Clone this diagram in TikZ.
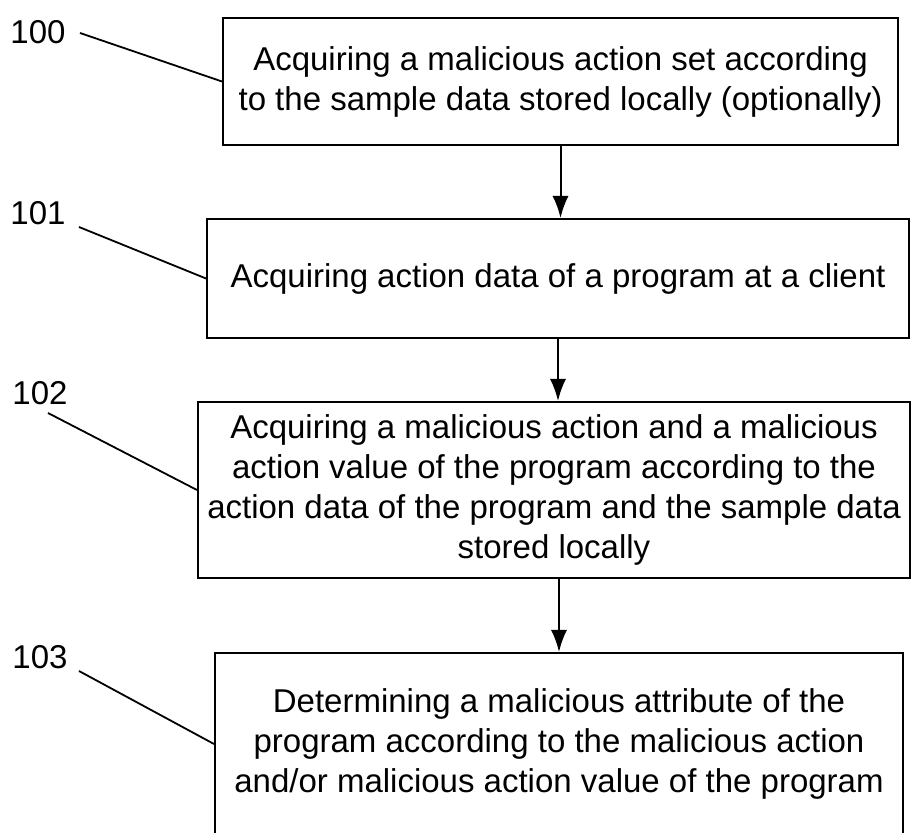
\documentclass[tikz,border=0pt]{standalone}
\usepackage{fontspec}
\setmainfont{Liberation Sans}
\usetikzlibrary{arrows.meta}

\begin{document}
\begin{tikzpicture}[
  x=0.5pt, y=-0.5pt,
  stepbox/.style={draw, line width=1pt, inner sep=0pt, align=center, font=\fontsize{16.5}{20}\selectfont},
  num/.style={inner sep=0pt, font=\fontsize{16.5}{20}\selectfont},
  ln/.style={line width=0.9pt},
  arr/.style={line width=1pt, -{Latex[length=11pt,width=8pt]}}
]
\useasboundingbox (0,0) rectangle (911,833);
% step boxes
\node[stepbox, minimum width=337.5pt, minimum height=63.5pt] (b100) at (560.5,81.5) {Acquiring a malicious action set according\\to the sample data stored locally (optionally)};
\node[stepbox, minimum width=351pt, minimum height=59.5pt] (b101) at (558,278.5) {Acquiring action data of a program at a client};
\node[stepbox, minimum width=356pt, minimum height=88pt] (b102) at (554,490) {Acquiring a malicious action and a malicious\\action value of the program according to the\\action data of the program and the sample data\\stored locally};
\node[stepbox, minimum width=344pt, minimum height=91pt] (b103) at (559,744) {Determining a malicious attribute of the\\program according to the malicious action\\and/or malicious action value of the program};
% reference numerals
\node[num] (l100) at (38,32) {100};
\node[num] (l101) at (38,213) {101};
\node[num] (l102) at (40,393) {102};
\node[num] (l103) at (40,657) {103};
\coordinate (t100) at (80,33);
\coordinate (t101) at (79,227);
\coordinate (t102) at (48,413);
\coordinate (t103) at (79,671);
\foreach \n in {100,101,102,103} {\draw[ln] (t\n) -- (b\n.west);}
% flow
\draw[arr] (b100.south) -- (b100.south |- b101.north);
\draw[arr] (b101.south) -- (b101.south |- b102.north);
\draw[arr] (b103.north |- b102.south) -- (b103.north);
\end{tikzpicture}
\end{document}
